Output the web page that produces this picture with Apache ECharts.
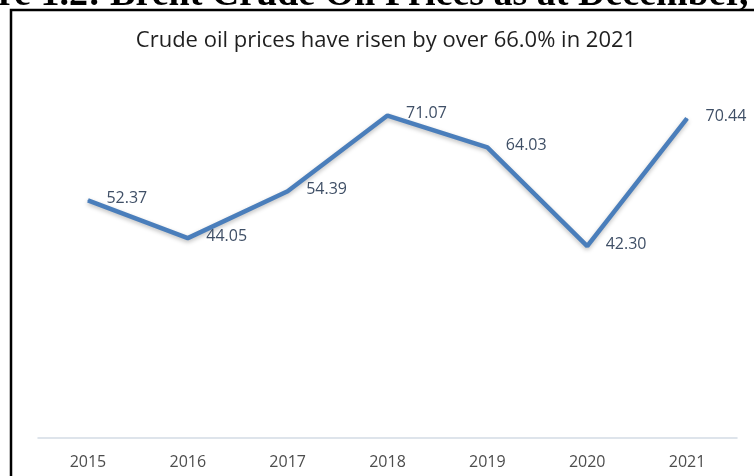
<!DOCTYPE html>
<html>
<head>
<meta charset="utf-8">
<script src="https://cdn.jsdelivr.net/npm/echarts@6/dist/echarts.min.js"></script>
<style>
  html, body { margin: 0; padding: 0; background: #fff; }
  #chart { width: 754px; height: 476px; }
</style>
</head>
<body>
<div id="chart"></div>
<script>
const years = ['2015', '2016', '2017', '2018', '2019', '2020', '2021']
const prices = [52.37, 44.05, 54.39, 71.07, 64.03, 42.30, 70.44]
const priceLabels = ['52.37', '44.05', '54.39', '71.07', '64.03', '42.30', '70.44']

const chart = echarts.init(document.getElementById('chart'))

const option = {
  backgroundColor: '#fff',
  animation: false,
  title: {
    text: 'Crude oil prices have risen by over 66.0% in 2021',
    left: 381,
    textAlign: 'center',
    top: 25,
    textStyle: { fontFamily: 'Open Sans', fontSize: 22, fontWeight: 'normal', color: '#1f1f1f' }
  },
  graphic: [
    {
      // cut-off figure caption above the box
      type: 'text',
      x: -76,
      y: 14,
      style: {
        text: 'Figure 1.2: Brent Crude Oil Prices as at December, 2021',
        font: 'bold 38px "Liberation Serif"',
        fill: '#000',
        verticalAlign: 'bottom'
      }
    },
    {
      type: 'rect',
      shape: { x: 11, y: 10, width: 800, height: 520 },
      style: { fill: 'none', stroke: '#000', lineWidth: 2.5 }
    }
  ],
  grid: { left: 38, right: 17, top: 75, bottom: 38 },
  xAxis: {
    type: 'category',
    data: years,
    boundaryGap: true,
    axisLine: { lineStyle: { color: '#d3dbe5', width: 1.5 } },
    axisTick: { length: 5, lineStyle: { color: '#d3dbe5', width: 1.5 } },
    axisLabel: { margin: 16, fontFamily: 'Open Sans', fontSize: 16, color: '#4d4d4d' }
  },
  yAxis: {
    type: 'value',
    min: 0,
    max: 80,
    show: false,
    splitLine: { show: false }
  },
  series: [
    {
      type: 'line',
      data: prices,
      symbol: 'circle',
      symbolSize: 1,
      itemStyle: { color: '#4a7ebb' },
      lineStyle: {
        color: '#4a7ebb',
        width: 4.5,
        shadowColor: 'rgba(0,0,0,0.25)',
        shadowBlur: 4,
        shadowOffsetY: 2
      },
      label: {
        show: true,
        position: 'right',
        distance: 18,
        offset: [0, -2],
        formatter: p => priceLabels[p.dataIndex],
        fontFamily: 'Open Sans',
        fontSize: 16,
        color: '#3f4f66'
      }
    }
  ]
}

chart.setOption(option)
</script>
</body>
</html>
